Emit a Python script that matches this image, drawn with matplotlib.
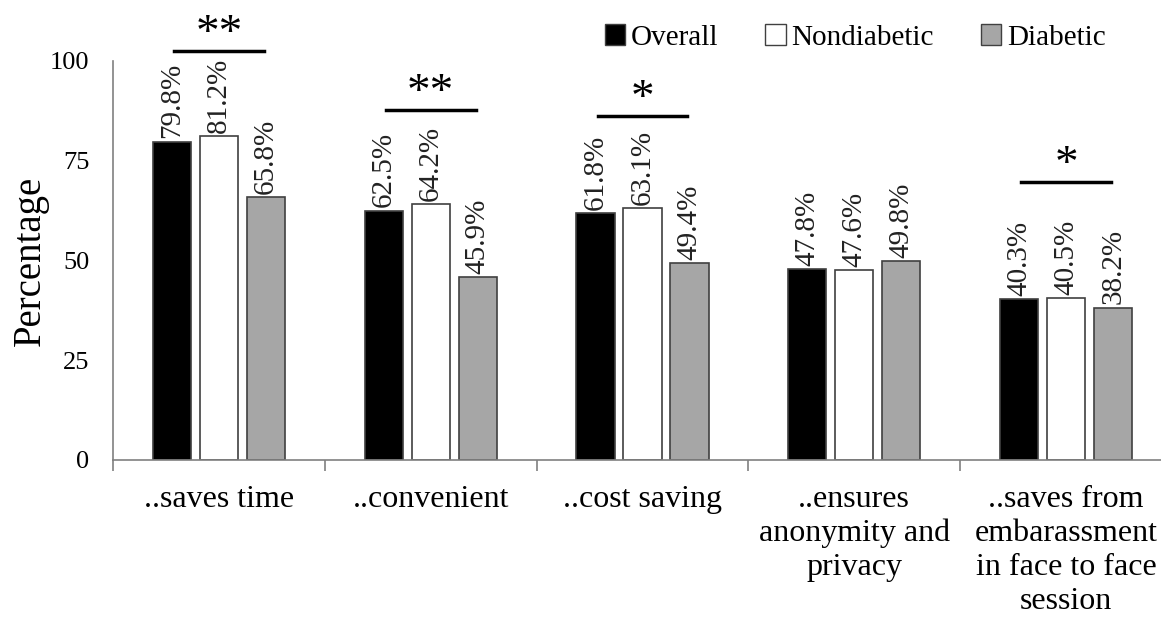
import matplotlib
matplotlib.use("Agg")
import matplotlib.pyplot as plt
from matplotlib.patches import Patch
import numpy as np

plt.rcParams['font.family'] = ['Liberation Serif', 'DejaVu Serif']

categories = ["..saves time", "..convenient", "..cost saving",
              "..ensures\nanonymity and\nprivacy",
              "..saves from\nembarassment\nin face to face\nsession"]
series = ["Overall", "Nondiabetic", "Diabetic"]
overall = [79.8, 62.5, 61.8, 47.8, 40.3]
nondiabetic = [81.2, 64.2, 63.1, 47.6, 40.5]
diabetic = [65.8, 45.9, 49.4, 49.8, 38.2]
# significance markers: category index, stars, bracket height
sig_cat = [0, 1, 2, 4]
sig_stars = ["**", "**", "*", "*"]
sig_y = [102.5, 87.7, 86.2, 69.7]

colors = ["#000000", "#ffffff", "#a6a6a6"]
values = [overall, nondiabetic, diabetic]

fig = plt.figure(figsize=(11.61, 6.19), dpi=100)
ax = fig.add_axes([113/1161, 159/619, 1059/1161, 399/619])

x = np.arange(len(categories))
w = 0.18
step = 0.222
for i, (vals, c) in enumerate(zip(values, colors)):
    pos = x + (i - 1) * step
    ax.bar(pos, vals, width=w, color=c, edgecolor="#404040", linewidth=1.2, zorder=2)
    for p, v in zip(pos, vals):
        ax.text(p, v + 0.8, f"{v:.1f}%", rotation=90, ha="center", va="bottom",
                fontsize=21, color="#222222")

for ci, st, yy in zip(sig_cat, sig_stars, sig_y):
    x0 = ci - step + 0.01
    x1 = ci + step - 0.01
    ax.plot([x0, x1], [yy, yy], color="black", lw=2.5, clip_on=False)
    ax.text(ci, yy - 1.2, st, ha="center", va="bottom", fontsize=34, clip_on=False)

ax.set_xlim(-0.5, len(categories) - 0.5)
ax.set_ylim(0, 100)
ax.set_yticks([0, 25, 50, 75, 100])
ax.tick_params(axis="y", length=0, labelsize=19, pad=17)
ax.set_xticks(np.arange(len(categories) + 1) - 0.5, minor=True)
ax.set_xticks(x)
ax.set_xticklabels(categories, fontsize=23, linespacing=1.22)
ax.tick_params(axis="x", which="major", length=0, pad=18)
ax.tick_params(axis="x", which="minor", length=8, color="#808080", width=1.2)
for s in ["top", "right"]:
    ax.spines[s].set_visible(False)
for s in ["left", "bottom"]:
    ax.spines[s].set_color("#808080")
    ax.spines[s].set_linewidth(1.2)
ax.set_ylabel("Percentage", fontsize=28)
ax.yaxis.set_label_coords(-0.061, 0.5)

handles = [Patch(facecolor=c, edgecolor="#404040", label=l) for c, l in zip(colors, series)]
fig.legend(handles=handles, loc="upper right", bbox_to_anchor=(0.975, 1.003), ncol=3,
           frameon=False, fontsize=21, handlelength=0.7, handleheight=0.7,
           handletextpad=0.2, columnspacing=1.6)

fig.savefig("out.png", dpi=100)
